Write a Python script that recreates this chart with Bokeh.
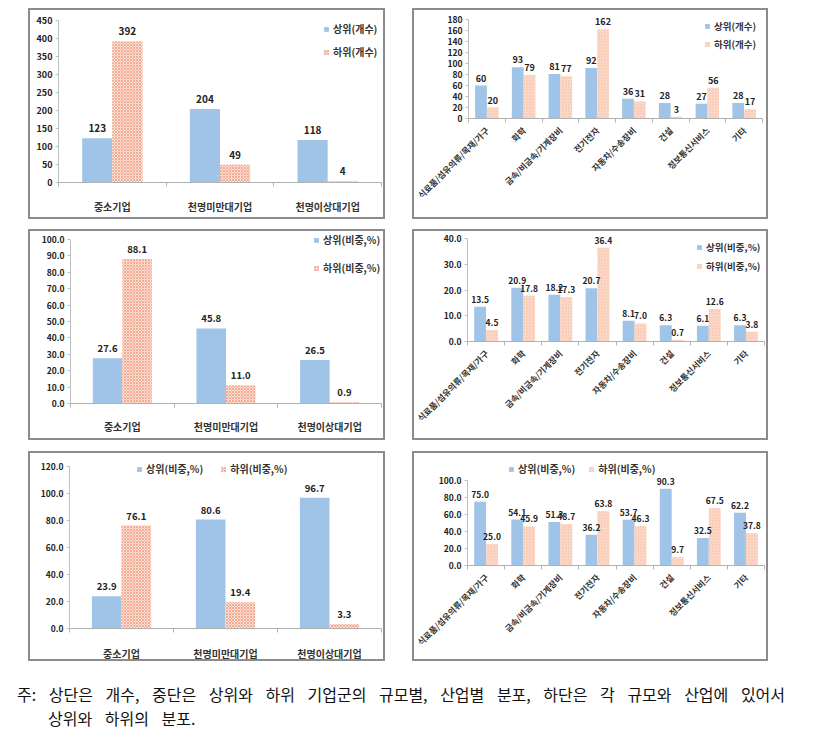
import math
from bokeh.plotting import figure
from bokeh.models import (ColumnDataSource, Range1d, FixedTicker, NumeralTickFormatter,
                          Legend, LegendItem, Spacer, Div)
from bokeh.layouts import row, column
from bokeh.transform import dodge
from bokeh.embed import file_html
from bokeh.resources import INLINE
from bokeh.core.properties import value

FONT = "Noto Sans CJK KR"

# ---------------- data ----------------
size_cats = ["중소기업", "천명미만대기업", "천명이상대기업"]
ind_cats = ["식료품/섬유의류/목재/가구", "화학", "금속/비금속/기계장비", "전기전자",
            "자동차/수송장비", "건설", "정보통신서비스", "기타"]

size_cnt_up = [123, 204, 118]
size_cnt_dn = [392, 49, 4]
ind_cnt_up = [60, 93, 81, 92, 36, 28, 27, 28]
ind_cnt_dn = [20, 79, 77, 162, 31, 3, 56, 17]

size_share_up = [27.6, 45.8, 26.5]
size_share_dn = [88.1, 11.0, 0.9]
ind_share_up = [13.5, 20.9, 18.2, 20.7, 8.1, 6.3, 6.1, 6.3]
ind_share_dn = [4.5, 17.8, 17.3, 36.4, 7.0, 0.7, 12.6, 3.8]

size_dist_up = [23.9, 80.6, 96.7]
size_dist_dn = [76.1, 19.4, 3.3]
ind_dist_up = [75.0, 54.1, 51.3, 36.2, 53.7, 90.3, 32.5, 62.2]
ind_dist_dn = [25.0, 45.9, 48.7, 63.8, 46.3, 9.7, 67.5, 37.8]

cnt_labels = ["상위(개수)", "하위(개수)"]
pct_labels = ["상위(비중,%)", "하위(비중,%)"]

footnote_1 = "주: 상단은 개수, 중단은 상위와 하위 기업군의 규모별, 산업별 분포, 하단은 각 규모와 산업에 있어서"
footnote_2 = "상위와 하위의 분포."

BLUE = "#9fc4e8"
PINK_L = dict(fill_color="#fbe1d6", hatch_pattern="x", hatch_color="#f3a58c",
              hatch_scale=3, hatch_weight=0.9)
PINK_R = dict(fill_color="#fcdccb", hatch_pattern="x", hatch_color="#f8c4ad",
              hatch_scale=3, hatch_weight=0.7)


def panel(cats, up, dn, decimals, ymax, ystep, labels, w, h, ml, mr, mt, mb, ex,
          bw, legend_loc, horizontal, rotated, pink, tick_fs, cat_fs, lab_fs, leg_fs,
          leg_spacing, cat_standoff, lab_off):
    """ex: extra pixels of (invisible) frame above the top tick, so the legend fits."""
    n = len(cats)
    src = ColumnDataSource(dict(
        x=list(range(n)), up=up, dn=dn,
        up_t=[f"{v:.{decimals}f}" for v in up],
        dn_t=[f"{v:.{decimals}f}" for v in dn]))
    h_data = h - mt - mb
    y_end = ymax * (h_data + ex) / h_data
    p = figure(width=w, height=h, x_range=Range1d(-0.5, n - 0.5), y_range=Range1d(0, y_end),
               output_backend="svg", toolbar_location=None,
               min_border_left=ml, min_border_right=mr, min_border_top=mt - ex,
               min_border_bottom=mb)
    if "frame_align" in p.properties():
        p.frame_align = False
    p.styles = {"border": "2px solid #8c8c8c"}
    p.xgrid.visible = False
    p.ygrid.visible = False
    p.outline_line_color = None
    p.background_fill_color = "white"

    r1 = p.vbar(x=dodge("x", -bw / 2, range=p.x_range), top="up", width=bw, source=src,
                fill_color=BLUE, line_color=None)
    r2 = p.vbar(x=dodge("x", bw / 2, range=p.x_range), top="dn", width=bw, source=src,
                line_color=None, **pink)
    for col, t, off in (("up", "up_t", -bw / 2), ("dn", "dn_t", bw / 2)):
        p.text(x=dodge("x", off, range=p.x_range), y=col, text=t, source=src,
               text_font=value(FONT), text_font_style="bold", text_font_size=lab_fs,
               text_color="#222222", text_align="center", text_baseline="bottom",
               y_offset=lab_off)

    # y axis
    ya = p.yaxis[0]
    ya.ticker = FixedTicker(ticks=list(range(0, ymax + 1, ystep)), minor_ticks=[])
    ya.formatter = NumeralTickFormatter(format="0.0" if decimals else "0")
    ya.bounds = (0, ymax)
    ya.axis_line_color = "#c0c0c0"
    ya.major_tick_line_color = "#c0c0c0"
    ya.major_tick_out = 3
    ya.major_tick_in = 0
    ya.minor_tick_line_color = None
    ya.major_label_standoff = 3
    ya.major_label_text_font = FONT
    ya.major_label_text_font_style = "bold"
    ya.major_label_text_font_size = tick_fs
    ya.major_label_text_color = "#222222"

    # x axis: labels at centres, tick marks at category boundaries
    xa = p.xaxis[0]
    xa.ticker = FixedTicker(ticks=list(range(n)), minor_ticks=[i - 0.5 for i in range(n + 1)])
    xa.major_label_overrides = {i: c for i, c in enumerate(cats)}
    xa.major_tick_line_color = None
    xa.major_tick_out = 0
    xa.major_tick_in = 0
    xa.minor_tick_out = 4
    xa.minor_tick_in = 0
    xa.minor_tick_line_color = "#b0b0b0"
    xa.axis_line_color = "#b0b0b0"
    xa.major_label_standoff = cat_standoff
    xa.major_label_text_font = FONT
    xa.major_label_text_font_style = "bold"
    xa.major_label_text_font_size = cat_fs
    xa.major_label_text_color = "#333333"
    if rotated:
        xa.major_label_orientation = math.pi / 4

    lg = Legend(items=[LegendItem(label=labels[0], renderers=[r1]),
                       LegendItem(label=labels[1], renderers=[r2])],
                location=legend_loc, orientation="horizontal" if horizontal else "vertical",
                border_line_color=None, background_fill_alpha=0,
                glyph_width=6, glyph_height=6, label_standoff=4, padding=0, margin=0,
                spacing=leg_spacing, label_height=14,
                label_text_font=FONT, label_text_font_style="bold",
                label_text_font_size=leg_fs, label_text_color="#333333")
    p.add_layout(lg)
    return p


p1 = panel(size_cats, size_cnt_up, size_cnt_dn, 0, 450, 50, cnt_labels,
           357, 211, 28, 6, 10, 39, 0, 0.28, (265, 123), False, False, PINK_L,
           "9px", "10px", "10px", "10px", 8, 12, -6)
p2 = panel(ind_cats, ind_cnt_up, ind_cnt_dn, 0, 180, 20, cnt_labels,
           356, 211, 54, 8, 9, 103, 4, 0.32, (236, 67), False, True, PINK_R,
           "8.5px", "8.5px", "9px", "9.5px", 4, 6, -4)
p3 = panel(size_cats, size_share_up, size_share_dn, 1, 100, 10, pct_labels,
           357, 211, 40, 6, 8, 39, 8, 0.285, (243, 128), False, False, PINK_L,
           "8.5px", "10px", "9.5px", "10px", 13, 11, -6)
p4 = panel(ind_cats, ind_share_up, ind_share_dn, 1, 40, 10, pct_labels,
           356, 211, 53, 6, 7, 101, 4, 0.32, (229, 68), False, True, PINK_R,
           "8.5px", "8.5px", "8.5px", "9.5px", 5, 6, -4)
p5 = panel(size_cats, size_dist_up, size_dist_dn, 1, 120, 20, pct_labels,
           357, 210, 39, 6, 13, 31, 10, 0.285, (67, 152), True, False, PINK_L,
           "8.5px", "10px", "9.5px", "10px", 17, 13, -6)
p6 = panel(ind_cats, ind_dist_up, ind_dist_dn, 1, 100, 20, pct_labels,
           356, 210, 53, 6, 27, 98, 22, 0.32, (41, 89), True, True, PINK_R,
           "8.5px", "8.5px", "8.5px", "10px", 13, 6, -4)

note = Div(text=(f'<div style="white-space:nowrap">{footnote_1}</div>'
                 f'<div style="white-space:nowrap;padding-left:31px">{footnote_2}</div>'),
           width=795, height=48,
           styles={"font-family": FONT, "font-size": "16px", "line-height": "23.5px",
                   "word-spacing": "9px", "color": "#111111"})

layout = column(
    Spacer(height=8),
    row(Spacer(width=28), p1, Spacer(width=27), p2),
    Spacer(height=10),
    row(Spacer(width=28), p3, Spacer(width=27), p4),
    Spacer(height=11),
    row(Spacer(width=28), p5, Spacer(width=27), p6),
    Spacer(height=17),
    row(Spacer(width=12), note),
)

open("out.html", "w").write(file_html(layout, INLINE))
